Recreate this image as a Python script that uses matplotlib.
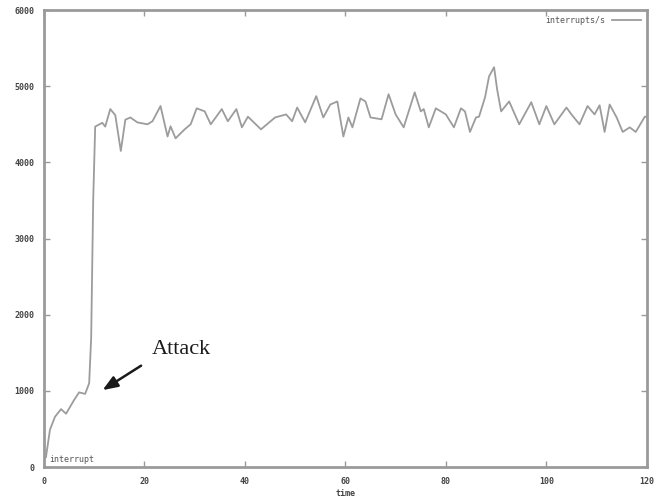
import numpy as np
import matplotlib
matplotlib.use("Agg")
import matplotlib.pyplot as plt

# interrupts per second over time
times = [0.4, 1.2, 2.2, 3.4, 4.4, 6.0, 7.0, 8.2, 9.0, 9.4, 9.8, 10.2, 11.6, 12.2,
         13.2, 14.2, 15.3, 16.2, 17.2, 18.6, 20.6, 21.6, 23.2, 24.6, 25.2, 26.2,
         28.0, 29.2, 30.4, 32.0, 33.2, 35.4, 36.6, 38.3, 39.4, 40.6, 43.2, 46.0,
         48.2, 49.4, 50.4, 52.0, 54.2, 55.6, 57.0, 58.4, 59.6, 60.6, 61.4, 63.0,
         64.0, 65.0, 67.2, 68.6, 70.0, 71.6, 73.8, 75.0, 75.6, 76.6, 78.0, 80.0,
         81.6, 83.0, 83.8, 84.8, 86.0, 86.6, 87.8, 88.6, 89.6, 90.2, 91.0, 92.6,
         94.6, 97.0, 98.6, 100.0, 101.6, 104.0, 105.0, 106.6, 108.2, 109.6,
         110.6, 111.6, 112.6, 114.0, 115.2, 116.6, 117.8, 119.6, 120.0]
irqs = [130, 490, 660, 760, 700, 880, 980, 960, 1100, 1700, 3500, 4470, 4520, 4470,
        4700, 4620, 4150, 4560, 4590, 4525, 4500, 4540, 4740, 4340, 4474, 4316,
        4434, 4500, 4710, 4670, 4500, 4700, 4540, 4700, 4460, 4600, 4434, 4590,
        4630, 4540, 4720, 4526, 4870, 4590, 4760, 4800, 4340, 4590, 4460, 4840,
        4800, 4590, 4566, 4895, 4630, 4460, 4920, 4670, 4700, 4460, 4710, 4630,
        4460, 4710, 4670, 4400, 4590, 4600, 4855, 5130, 5250, 4960, 4670, 4800,
        4500, 4790, 4500, 4740, 4500, 4720, 4630, 4500, 4740, 4630,
        4750, 4400, 4760, 4590, 4400, 4460, 4400, 4600, 4600]

xticks = [0, 20, 40, 60, 80, 100, 120]
yticks = [0, 1000, 2000, 3000, 4000, 5000, 6000]

grey = "#9a9a9a"
mono = "DejaVu Sans Mono"

fig = plt.figure(figsize=(6.56, 5.04), dpi=100)
ax = fig.add_axes([0.067, 0.0734, 0.919, 0.9066])

ax.plot(times, irqs, color="#9c9c9c", lw=1.3, label="interrupts/s")

ax.set_xlim(0, 120)
ax.set_ylim(0, 6000)
ax.set_xticks(xticks)
ax.set_yticks(yticks)
ax.tick_params(direction="in", length=4, width=1, color=grey,
               top=True, right=True, labelsize=6, labelcolor="#444444", pad=7)
for lab in ax.get_xticklabels() + ax.get_yticklabels():
    lab.set_family(mono)
    lab.set_weight("bold")
for s in ax.spines.values():
    s.set_color(grey)
    s.set_linewidth(2)

ax.set_xlabel("time", fontsize=6, family=mono, weight="bold",
              color="#444444", labelpad=2)

leg = ax.legend(loc="upper right", frameon=False, markerfirst=False,
                prop={"family": mono, "size": 6}, handlelength=3.5,
                borderaxespad=0.3)
for t in leg.get_texts():
    t.set_color("#555555")

ax.text(1.0, 40, "interrupt", fontsize=6, family=mono, color="#555555",
        ha="left", va="bottom")

ax.annotate("", xy=(11.2, 990), xytext=(19.8, 1350),
            arrowprops=dict(arrowstyle="-|>,head_length=0.9,head_width=0.35",
                            color="#1a1a1a", lw=1.8))
ax.text(27.4, 1540, "Attack", family="Liberation Serif", fontsize=16,
        color="#1a1a1a", ha="center", va="center")

fig.savefig("out.png", dpi=100)
